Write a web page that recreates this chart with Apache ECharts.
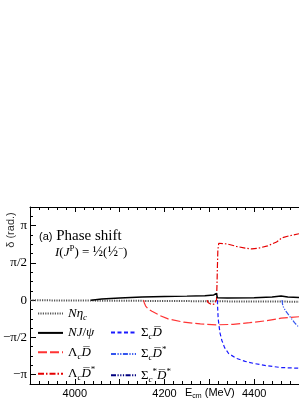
<!DOCTYPE html>
<html><head><meta charset="utf-8">
<script src="https://cdn.jsdelivr.net/npm/echarts@6/dist/echarts.min.js"></script>
<style>html,body{margin:0;padding:0;background:#fff}#c{width:299px;height:404px}</style>
</head><body><div id="c"></div>
<script>
// x axis (MeV)
const xMin = 3900, xMax = 4500;
const xTickLabels = [4000, 4200, 4400];
// y axis (rad), labels at multiples of pi/2
const yTickValues = [-Math.PI, -Math.PI / 2, 0, Math.PI / 2, Math.PI];
const yTickLabels = ['−π', '−π/2', '0', 'π/2', 'π'];

// phase shifts [E_cm (MeV), delta (rad)]
const nEtac = [[3900,0],[3950,-0.01],[4000,-0.015],[4100,-0.025],[4200,-0.035],[4300,-0.045],[4318,-0.05],[4400,-0.055],[4460,-0.06],[4500,-0.065]];
const nJpsi = [[4036,0],[4060,0.05],[4100,0.09],[4150,0.13],[4200,0.15],[4250,0.17],[4290,0.19],[4310,0.22],[4316,0.28],[4318,0.1],[4340,0.09],[4400,0.1],[4440,0.13],[4460,0.18],[4475,0.13],[4500,0.11]];
const lcDbar = [[4153.5,0],[4155,-0.12],[4158,-0.25],[4163,-0.36],[4172,-0.47],[4190,-0.65],[4208,-0.79],[4243,-0.93],[4280,-1.0],[4316,-1.04],[4353,-1.02],[4390,-0.95],[4426,-0.87],[4460,-0.76],[4480,-0.73],[4500,-0.7]];
const lcDbarStar = [[4295,0],[4297,-0.1],[4300,-0.16],[4305,-0.19],[4310,-0.17],[4314,-0.1],[4316,0.0],[4317,0.6],[4318,1.4],[4319,2.1],[4321,2.4],[4324,2.45],[4340,2.37],[4360,2.27],[4380,2.19],[4395,2.16],[4410,2.19],[4430,2.29],[4450,2.45],[4462,2.63],[4480,2.72],[4500,2.8]];
const scDbar = [[4318,0],[4318.5,-0.3],[4319.5,-0.7],[4321,-1.0],[4324,-1.4],[4328,-1.7],[4334,-2.0],[4343,-2.25],[4360,-2.45],[4380,-2.58],[4400,-2.67],[4430,-2.77],[4460,-2.84],[4500,-2.87]];
const scDbarStar = [[4462,0],[4464,-0.25],[4470,-0.45],[4480,-0.7],[4490,-0.95],[4500,-1.15]];
const scStarDbarStar = [];

const names = ['Nηc','NJ/ψ','ΛcD̄','ΛcD̄*','ΣcD̄','ΣcD̄*','Σc*D̄*'];
const richNames = {
  'Nηc': '{i|N}{i|η}{s|c}',
  'NJ/ψ': '{i|NJ}{u|/}{i|ψ}',
  'ΛcD̄': '{u|Λ}{s|c}{i|D\u0305}',
  'ΛcD̄*': '{u|Λ}{s|c}{i|D\u0305}{p|*}',
  'ΣcD̄': '{u|Σ}{s|c}{i|D\u0305}',
  'ΣcD̄*': '{u|Σ}{s|c}{i|D\u0305}{p|*}',
  'Σc*D̄*': '{u|Σ}{s|c}{p|*}{i|D\u0305}{p|*}'
};
const SERIF = 'Liberation Serif, DejaVu Serif, serif';
const SANS = 'Liberation Sans, Arial, sans-serif';
const rich = {
  i: {fontFamily: SERIF, fontStyle: 'italic', fontSize: 13, lineHeight: 14, color: '#000'},
  u: {fontFamily: SERIF, fontSize: 13, lineHeight: 14, color: '#000'},
  s: {fontFamily: SERIF, fontStyle: 'italic', fontSize: 9, lineHeight: 14, padding: [8,0,0,0], color: '#000'},
  p: {fontFamily: SERIF, fontSize: 9, lineHeight: 14, padding: [0,0,8,0], color: '#000'},
  f: {fontFamily: SERIF, fontSize: 14, lineHeight: 14, color: '#000'},
  a: {fontFamily: SANS, fontSize: 11, lineHeight: 14, color: '#000'},
  b: {fontFamily: SERIF, fontSize: 15, lineHeight: 14, color: '#000'},
  ax: {fontFamily: SANS, fontSize: 11, lineHeight: 14, color: '#000'},
  axs: {fontFamily: SANS, fontSize: 7, lineHeight: 14, padding: [7,0,0,0], color: '#000'}
};

const styles = [
  {color: '#555', width: 2, type: [1.2, 1.2]},
  {color: '#000', width: 1.5, type: 'solid'},
  {color: '#ff3333', width: 1.2, type: [9, 3]},
  {color: '#e60000', width: 1.2, type: [6, 2, 1.5, 2]},
  {color: '#1a1aff', width: 1.2, type: [4, 2.5]},
  {color: '#3355ee', width: 1.2, type: [5, 1.5, 1.2, 1.5, 1.2, 1.5]},
  {color: '#000080', width: 1.2, type: [5, 1.5, 1.2, 1.5, 1.2, 1.5, 1.2, 1.5]}
];
const datas = [nEtac, nJpsi, lcDbar, lcDbarStar, scDbar, scDbarStar, scStarDbarStar];

const piEighths = [];
for (let k = -9; k <= 10; k++) piEighths.push(k * Math.PI / 8);

const chart = echarts.init(document.getElementById('c'), null, {renderer: 'canvas'});
const legendCommon = {
  orient: 'vertical', padding: 0, itemWidth: 25, itemHeight: 14, itemGap: 4.4,
  itemStyle: {opacity: 0, borderWidth: 0},
  formatter: function (n) { return richNames[n]; },
  textStyle: {rich: rich}
};
const option = {
  animation: false,
  backgroundColor: '#fff',
  grid: {left: 26, top: 207, right: -3, bottom: 20, containLabel: false},
  xAxis: [{
    type: 'value', min: xMin, max: xMax, interval: 100, position: 'bottom',
    axisLine: {show: true, onZero: false, lineStyle: {color: '#000', width: 1}},
    axisTick: {show: true, inside: true, length: 5, lineStyle: {color: '#000'}},
    minorTick: {show: true, splitNumber: 5, length: 3, lineStyle: {color: '#000'}},
    splitLine: {show: false},
    axisLabel: {customValues: xTickLabels, fontFamily: SANS, fontSize: 11, color: '#000', margin: 4,
      formatter: function (v) { return String(Math.round(v)); }}
  }, {
    type: 'value', min: xMin, max: xMax, interval: 100, position: 'top',
    axisLine: {show: true, onZero: false, lineStyle: {color: '#000', width: 1}},
    axisTick: {show: true, inside: true, length: 5, lineStyle: {color: '#000'}},
    minorTick: {show: true, splitNumber: 5, length: 3, lineStyle: {color: '#000'}},
    splitLine: {show: false}, axisLabel: {show: false}
  }],
  yAxis: [{
    type: 'value', min: -9 * Math.PI / 8, max: 10 * Math.PI / 8, position: 'left',
    axisLine: {show: true, onZero: false, lineStyle: {color: '#000', width: 1}},
    axisTick: {show: true, inside: true, length: 6, customValues: yTickValues, lineStyle: {color: '#000'}},
    splitLine: {show: false},
    axisLabel: {
      customValues: yTickValues, fontFamily: SERIF, fontSize: 13, color: '#000', margin: 3,
      formatter: function (v) {
        let best = 0, bd = 1e9;
        yTickValues.forEach(function (t, i) { const d = Math.abs(t - v); if (d < bd) { bd = d; best = i; } });
        return yTickLabels[best];
      }
    }
  }, {
    type: 'value', min: -9 * Math.PI / 8, max: 10 * Math.PI / 8, position: 'left',
    axisLine: {show: false},
    axisTick: {show: true, inside: true, length: 3, customValues: piEighths, lineStyle: {color: '#000'}},
    splitLine: {show: false}, axisLabel: {show: false}
  }],
  legend: [
    Object.assign({data: names.slice(0, 4), left: 37, top: 305}, legendCommon),
    Object.assign({data: names.slice(4), left: 110, top: 324}, legendCommon)
  ],
  graphic: [
    {type: 'text', left: 39, top: 229, style: {text: '{a|(a)}{b| Phase shift}', rich: rich}},
    {type: 'text', left: 55, top: 244, style: {text: '{i|I}{u|(}{i|J}{p|P}{u|) = }{f|½}{u|(}{f|½}{p|−}{u|)}', rich: rich}},
    {type: 'text', left: 185, top: 386, style: {text: '{ax|E}{axs|cm}{ax| (MeV)}', rich: rich}},
    {type: 'text', x: 11, y: 230, rotation: Math.PI / 2, style: {text: 'δ (rad.)', font: '11px ' + SANS, fill: '#333', align: 'center', verticalAlign: 'middle'}}
  ],
  series: names.map(function (n, i) {
    return {
      name: n, type: 'line', data: datas[i], showSymbol: false, symbol: 'none',
      smooth: false, clip: true, lineStyle: styles[i], itemStyle: {color: styles[i].color},
      z: i === 1 ? 5 : 3
    };
  })
};
chart.setOption(option);
</script>
</body></html>
